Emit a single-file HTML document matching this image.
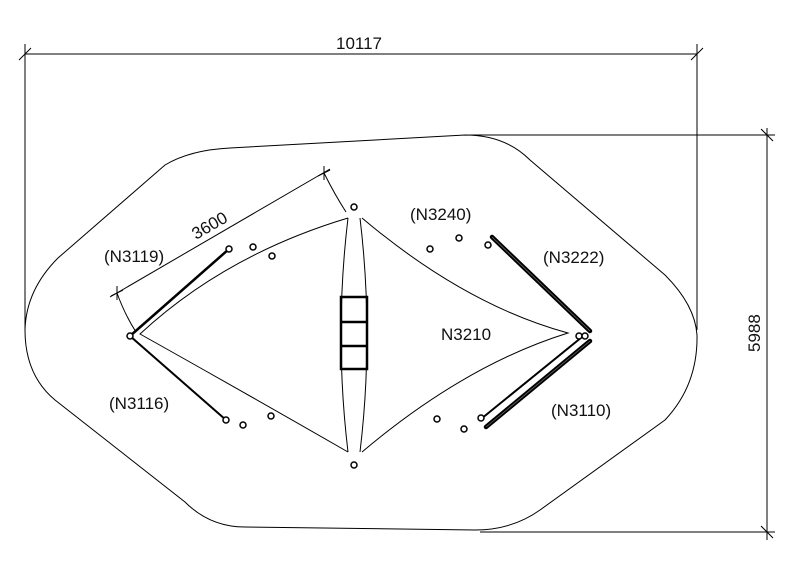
<!DOCTYPE html>
<html><head><meta charset="utf-8"><style>
html,body{margin:0;padding:0;background:#fff;}
svg{display:block;}
text{font-family:"Liberation Sans",Arial,sans-serif;font-size:17px;fill:#111;}
</style></head><body>
<svg width="807" height="562" viewBox="0 0 807 562" xmlns="http://www.w3.org/2000/svg">
<g fill="none" stroke="#000" stroke-width="1">
<line x1="25" y1="54" x2="697" y2="54"/>
<line x1="25" y1="44" x2="25" y2="330"/>
<line x1="697" y1="44" x2="697" y2="330"/>
<line x1="19" y1="60" x2="31" y2="48"/>
<line x1="691" y1="60" x2="703" y2="48"/>
<line x1="767" y1="128" x2="767" y2="540"/>
<line x1="470" y1="135" x2="775" y2="135"/>
<line x1="480" y1="532" x2="775" y2="532"/>
<line x1="761" y1="129" x2="773" y2="141"/>
<line x1="761" y1="526" x2="773" y2="538"/>
<line x1="110" y1="297" x2="330" y2="169"/>
<line x1="117" y1="286" x2="117" y2="300"/>
<line x1="111" y1="296" x2="123" y2="290"/>
<line x1="324" y1="166" x2="324" y2="180"/>
<line x1="318" y1="176" x2="330" y2="170"/>
<path d="M117,293 Q125,315 136,332"/>
<path d="M324,173 Q335,195 346,212"/>
<path d="M230,148 L465,135 Q505,135 530,160 L665,275 Q695,305 697,335 Q698,385 665,420 L540,510 Q512,530 475,530 L245,527 Q210,527 185,502 L55,400 Q25,375 25,330 Q26,290 58,258 L165,165 Q190,150 230,148 Z"/>
<path d="M348,218 Q225,255 140,334 Q240,390 348,452"/>
<path d="M362,218 Q465,305 568,333 Q465,365 362,452"/>
<path d="M348,218 Q334,335 348,452"/>
<path d="M360,218 Q374,335 360,452"/>
</g>
<g fill="none" stroke="#000" stroke-width="2.5">
<rect x="341" y="297" width="26" height="72"/>
<line x1="341" y1="322" x2="367" y2="322"/>
<line x1="341" y1="346" x2="367" y2="346"/>
</g>
<g stroke="#000" stroke-linecap="round">
<line x1="130" y1="336" x2="229" y2="249" stroke-width="2.5"/>
<line x1="130" y1="336" x2="226" y2="420" stroke-width="2"/>
<line x1="492" y1="237" x2="590" y2="331" stroke-width="4.5"/>
<line x1="486" y1="427" x2="590" y2="341" stroke-width="4.5"/>
<line x1="481" y1="419" x2="582" y2="337" stroke-width="2"/>
</g>
<line x1="492" y1="237" x2="590" y2="331" stroke="#666" stroke-width="0.8"/>
<line x1="486" y1="427" x2="590" y2="341" stroke="#666" stroke-width="0.8"/>
<g fill="#fff" stroke="#000" stroke-width="1.5">
<circle cx="130" cy="336" r="3"/>
<circle cx="354" cy="207" r="3"/>
<circle cx="354" cy="465" r="3"/>
<circle cx="229" cy="249" r="3"/>
<circle cx="253" cy="247" r="3"/>
<circle cx="272" cy="256" r="3"/>
<circle cx="226" cy="420" r="3"/>
<circle cx="243" cy="425" r="3"/>
<circle cx="271" cy="416" r="3"/>
<circle cx="430" cy="249" r="3"/>
<circle cx="459" cy="238" r="3"/>
<circle cx="488" cy="245" r="3"/>
<circle cx="437" cy="419" r="3"/>
<circle cx="464" cy="429" r="3"/>
<circle cx="481" cy="418" r="3"/>
<circle cx="579" cy="336" r="3"/>
<circle cx="585" cy="336" r="3"/>
</g>
<text x="336" y="49">10117</text>
<text x="0" y="0" transform="translate(760,352) rotate(-90)">5988</text>
<text x="0" y="0" transform="translate(196,240) rotate(-30)">3600</text>
<text x="104" y="262">(N3119)</text>
<text x="109" y="409">(N3116)</text>
<text x="410" y="220">(N3240)</text>
<text x="543" y="263">(N3222)</text>
<text x="441" y="340">N3210</text>
<text x="551" y="416">(N3110)</text>
</svg>
</body></html>
